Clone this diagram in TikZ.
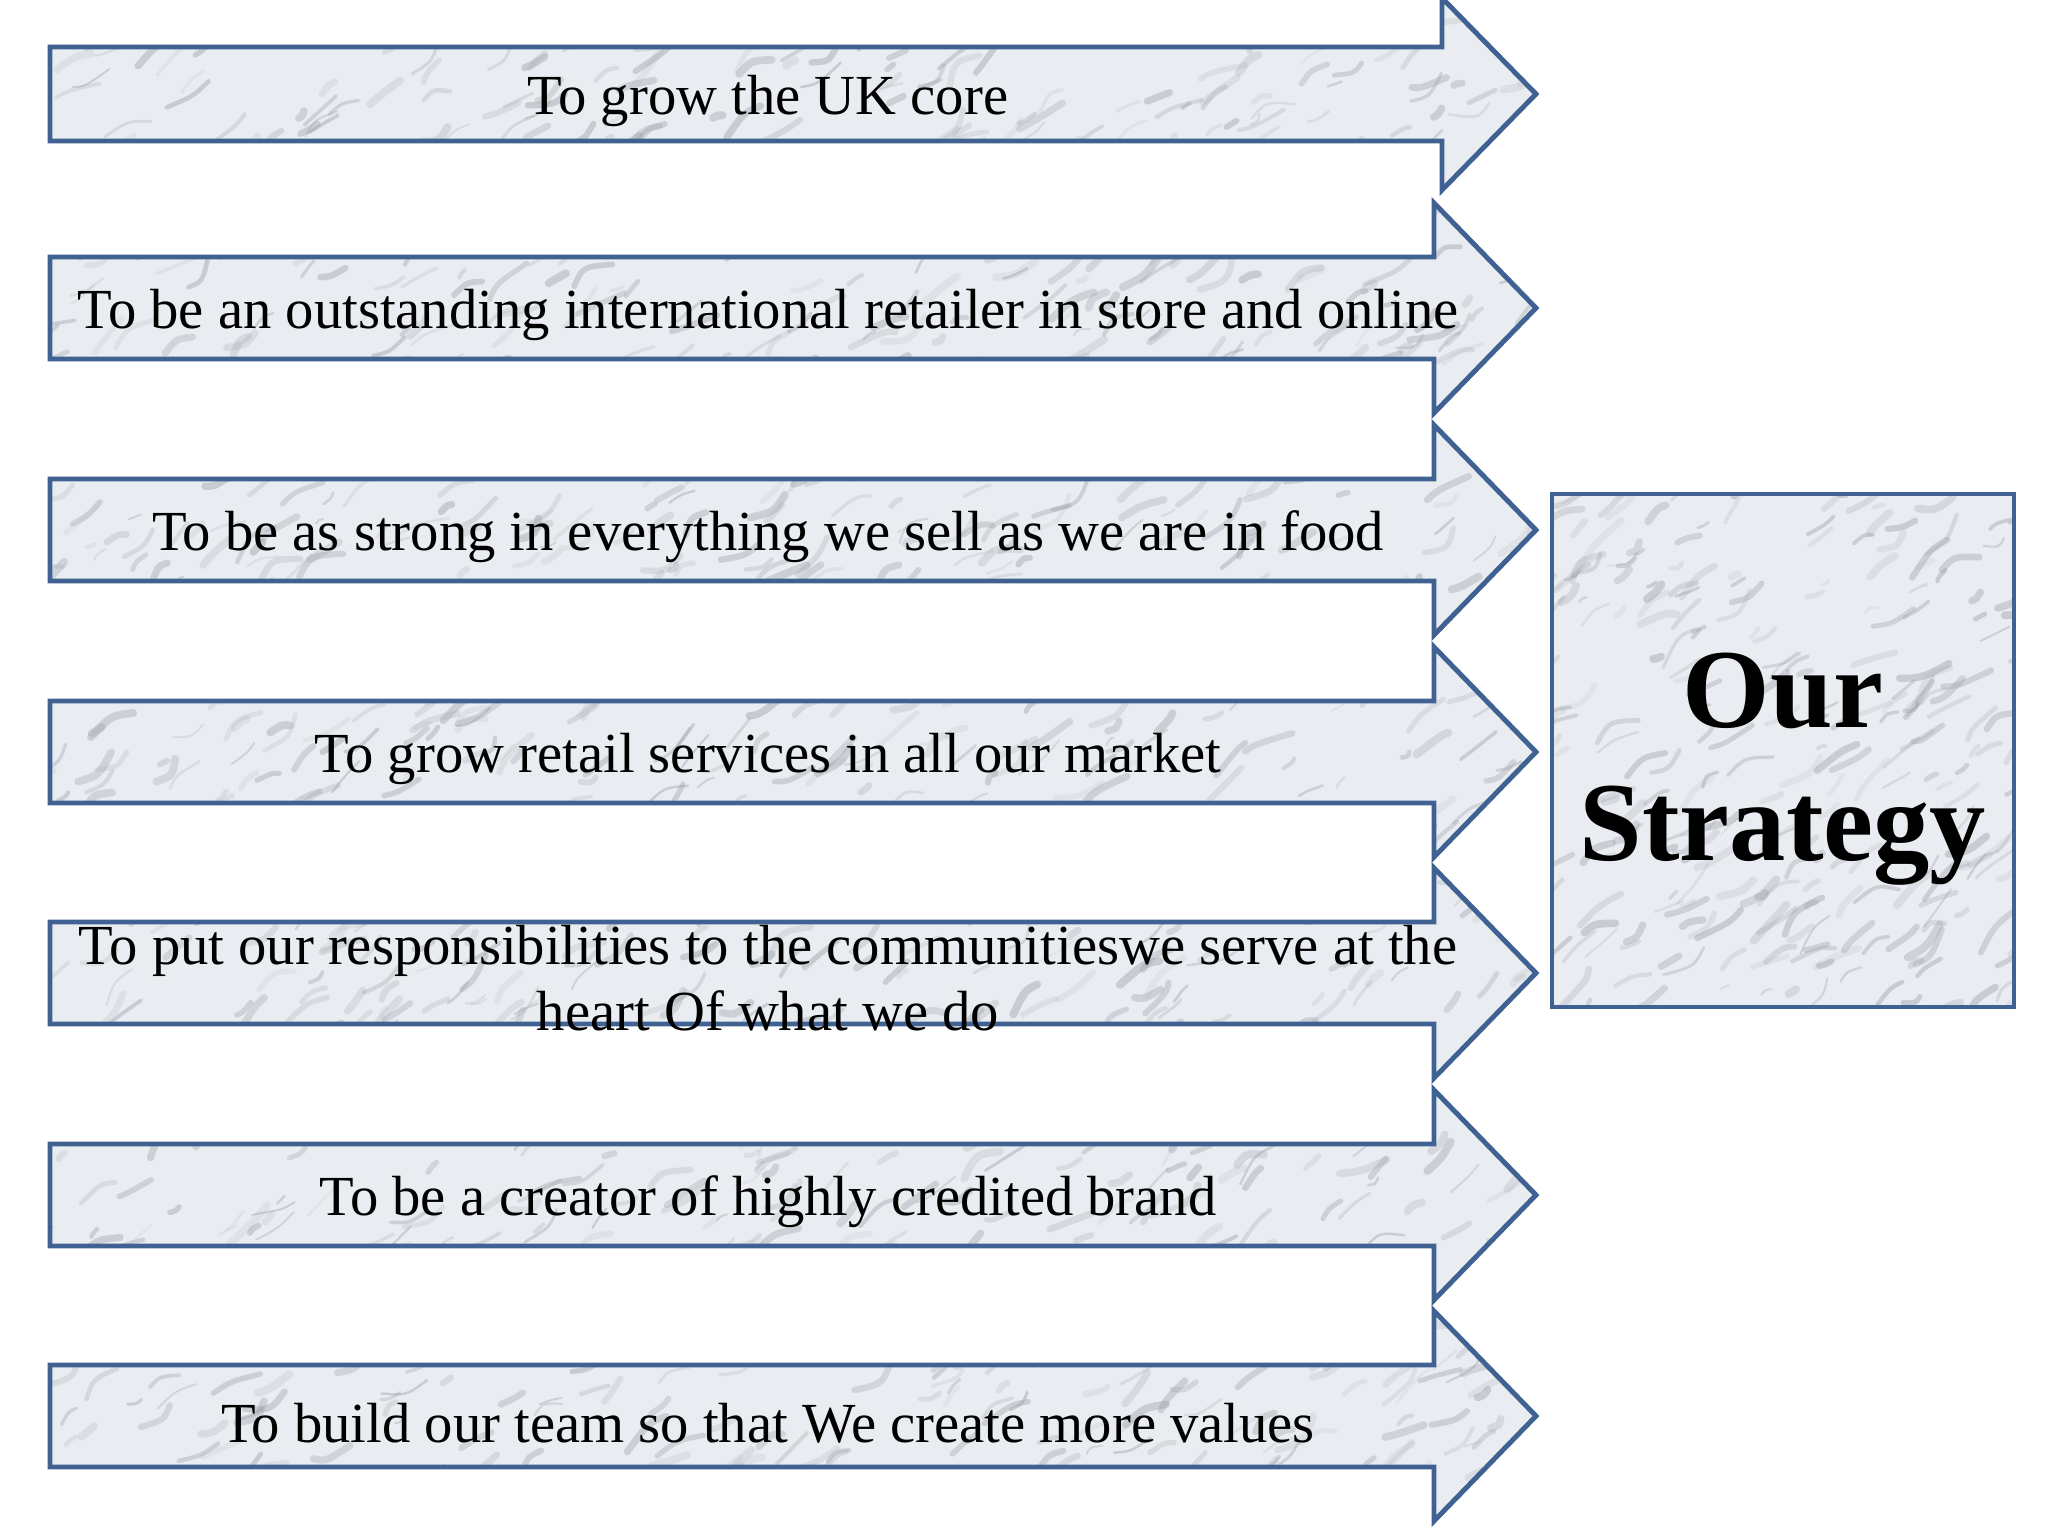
\documentclass[tikz,border=0pt]{standalone}
\usepackage{fontspec}
\setmainfont{Liberation Serif}
\definecolor{edge}{RGB}{64,98,146}
\definecolor{marble}{RGB}{233,236,240}
\definecolor{vein}{RGB}{150,156,165}
\tikzset{
  shapeline/.style={draw=edge, line width=1.4pt, line join=miter},
  armtext/.style={font=\fontsize{16.1}{18.6}\selectfont, align=center, inner sep=0pt},
  titletext/.style={font=\bfseries\fontsize{32}{38}\selectfont, align=center, inner sep=0pt}
}
\newcommand{\marbleveins}[5]{% x1 y1 x2 y2 count
  \foreach \k in {1,...,#5}{
    \pgfmathsetmacro{\px}{#1+rnd*(#3-#1)}
    \pgfmathsetmacro{\py}{#2+rnd*(#4-#2)}
    \pgfmathsetmacro{\ln}{8+rnd*45}
    \pgfmathsetmacro{\ang}{15+rnd*40}
    \pgfmathsetmacro{\op}{0.10+0.30*rnd}
    \pgfmathsetmacro{\lw}{0.5+1.8*rnd}
    \pgfmathsetmacro{\ex}{\ln*cos(\ang)}
    \pgfmathsetmacro{\ey}{-\ln*sin(\ang)}
    \pgfmathsetmacro{\cx}{0.5*\ex+(rnd-0.5)*0.5*\ln}
    \pgfmathsetmacro{\cy}{0.5*\ey+(rnd-0.5)*0.5*\ln}
    \draw[vein, opacity=\op, line width=\lw pt, line cap=round]
      (\px,\py) .. controls +(\cx,\cy) .. +(\ex,\ey);
  }}
\begin{document}
\begin{tikzpicture}[x=0.01cm, y=-0.01cm]
\useasboundingbox (0,0) rectangle (2048,1536);
\fill[white] (0,0) rectangle (2048,1536);
\pgfmathsetseed{11}
% arrows: centre y / shaft half / head half / notch x
\foreach \ay/\sh/\hh/\nx [count=\i] in {94/47/96/1442, 308/51/105/1434, 530/51/105/1434, 752/51/105/1434, 973/51/105/1434, 1195/51/105/1434, 1416/51/105/1434}{
  \pgfmathsetmacro{\sa}{\ay-\sh}
  \pgfmathsetmacro{\sb}{\ay+\sh}
  \pgfmathsetmacro{\ha}{\ay-\hh}
  \pgfmathsetmacro{\hb}{\ay+\hh}
  \begin{scope}
    \clip (50,\sa) -- (\nx,\sa) -- (\nx,\ha) -- (1536,\ay) -- (\nx,\hb) -- (\nx,\sb) -- (50,\sb) -- cycle;
    \fill[marble] (40,\ha) rectangle (1545,\hb);
    \marbleveins{20}{\ha}{1540}{\hb}{220}
  \end{scope}
  \draw[shapeline] (50,\sa) -- (\nx,\sa) -- (\nx,\ha) -- (1536,\ay) -- (\nx,\hb) -- (\nx,\sb) -- (50,\sb) -- cycle;
}
% strategy box
\begin{scope}
  \clip (1552,494) rectangle (2014,1007);
  \fill[marble] (1552,494) rectangle (2014,1007);
  \marbleveins{1520}{494}{2014}{1030}{260}
\end{scope}
\draw[shapeline] (1552,494) rectangle (2014,1007);
% texts
\node[armtext] (t1) at (768,101) {To grow the UK core};
\node[armtext] (t2) at (768,315) {To be an outstanding international retailer in store and online};
\node[armtext] (t3) at (768,537) {To be as strong in everything we sell as we are in food};
\node[armtext] (t4) at (768,759) {To grow retail services in all our market};
\node[armtext] (t5) at (768,978) {To put our responsibilities to the communitieswe serve at the\\heart Of what we do};
\node[armtext] (t6) at (768,1202) {To be a creator of highly credited brand};
\node[armtext] (t7) at (768,1423) {To build our team so that We create more values};
\node[titletext] (title) at (1783,769) {Our\\Strategy};
\end{tikzpicture}
\end{document}
